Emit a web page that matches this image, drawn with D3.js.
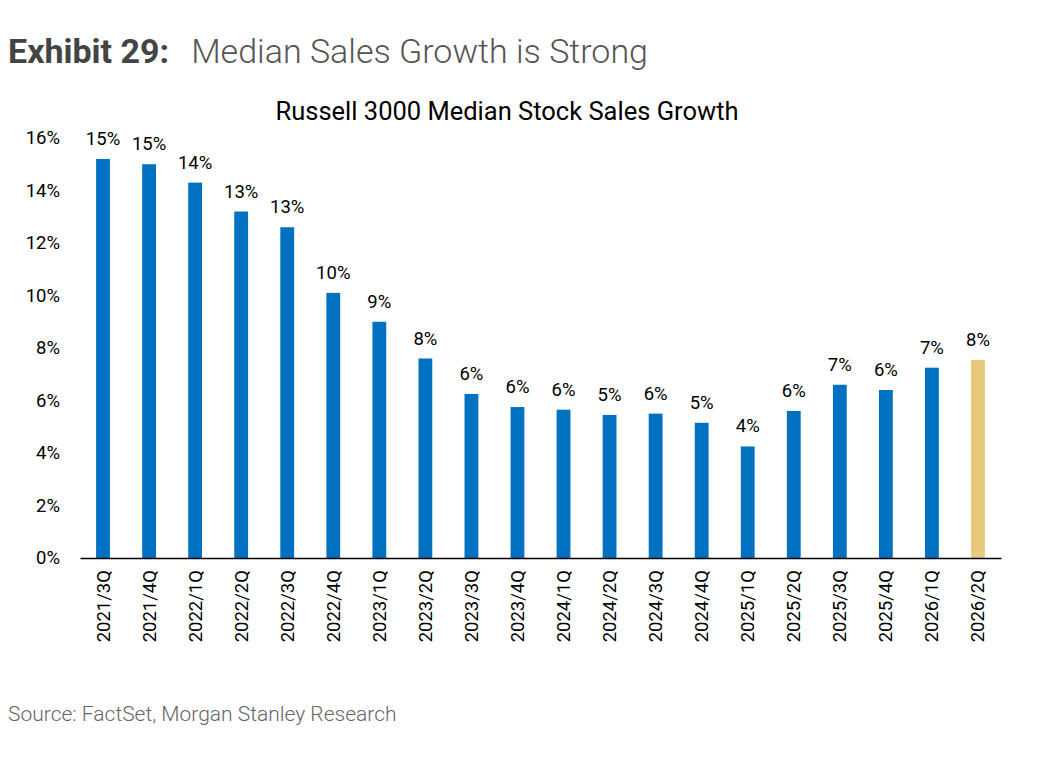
<!DOCTYPE html>
<html><head><meta charset="utf-8">
<script src="https://cdn.jsdelivr.net/npm/d3@7"></script>
<style>body{margin:0;background:#fff;font-family:Roboto,sans-serif;}</style>
</head><body>
<script>
// chart data
var quarters = ["2021/3Q","2021/4Q","2022/1Q","2022/2Q","2022/3Q","2022/4Q","2023/1Q","2023/2Q","2023/3Q","2023/4Q",
  "2024/1Q","2024/2Q","2024/3Q","2024/4Q","2025/1Q","2025/2Q","2025/3Q","2025/4Q","2026/1Q","2026/2Q"];
var growth = [15.2,15.0,14.3,13.2,12.6,10.1,9.0,7.6,6.25,5.75,5.65,5.45,5.5,5.15,4.25,5.6,6.6,6.4,7.25,7.55];
var labels = ["15%","15%","14%","13%","13%","10%","9%","8%","6%","6%","6%","5%","6%","5%","4%","6%","7%","6%","7%","8%"];
var yTicks = [0,2,4,6,8,10,12,14,16];

var svg = d3.select("body").append("svg").attr("width",1048).attr("height",760);

svg.append("text").attr("x",8).attr("y",63).style("font-size","34px").style("fill","#444")
  .html('<tspan font-weight="bold">Exhibit 29:</tspan><tspan dx="22" font-weight="300" fill="#555">Median Sales Growth is Strong</tspan>');

svg.append("text").attr("x",507).attr("y",120).attr("text-anchor","middle")
  .style("font-size","25.5px").style("fill","#000").text("Russell 3000 Median Stock Sales Growth");

var x = d3.scaleBand().domain(quarters).range([80,1001]).paddingInner(0.7).paddingOuter(0.35);
var y = d3.scaleLinear().domain([0,16]).range([558,138]);

var g = svg.append("g");
g.selectAll("rect").data(quarters).enter().append("rect")
  .attr("x",d=>x(d)).attr("width",x.bandwidth())
  .attr("y",(d,i)=>y(growth[i])).attr("height",(d,i)=>y(0)-y(growth[i]))
  .attr("fill",(d,i)=>i===quarters.length-1?"#E8CA7D":"#0070C0");

g.selectAll("text.lab").data(quarters).enter().append("text").attr("class","lab")
  .attr("x",d=>x(d)+x.bandwidth()/2).attr("y",(d,i)=>y(growth[i])-14)
  .attr("text-anchor","middle").style("font-size","18.5px").text((d,i)=>labels[i]);

var ya = svg.append("g").attr("transform","translate(80,0)")
  .call(d3.axisLeft(y).tickValues(yTicks).tickFormat(d=>d+"%").tickSize(0).tickPadding(20));
ya.select(".domain").remove();
ya.selectAll("text").style("font-size","18.5px").style("font-family","Roboto").attr("fill","#000");

var xa = svg.append("g").attr("transform","translate(0,558)")
  .call(d3.axisBottom(x).tickSize(0).tickPadding(10));
xa.select(".domain").attr("stroke","#000").attr("stroke-width",1.5);
xa.selectAll("text").style("font-size","18.5px").style("font-family","Roboto").attr("fill","#000")
  .attr("transform","rotate(-90)").attr("text-anchor","end").attr("x",-12).attr("y",0).attr("dy","0.35em");

svg.append("text").attr("x",8).attr("y",721).style("font-size","21px").style("font-weight","300").style("fill","#666")
  .text("Source: FactSet, Morgan Stanley Research");
</script>
</body></html>
